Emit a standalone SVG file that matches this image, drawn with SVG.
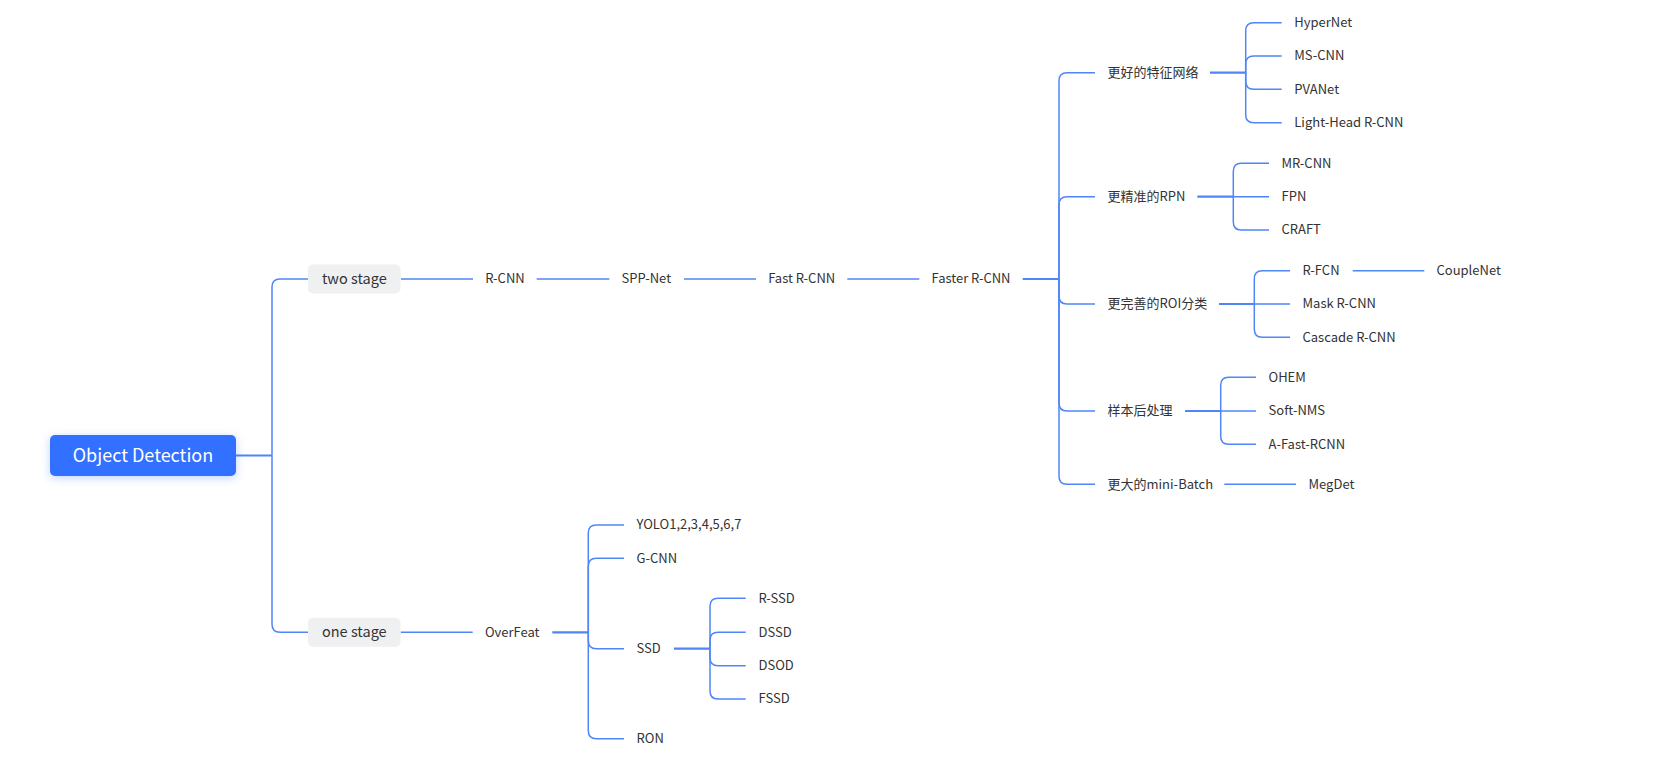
<svg xmlns="http://www.w3.org/2000/svg" width="1664" height="777" viewBox="0 0 1664 777">
<defs>
<style>
.t{font-family:"Noto Sans CJK SC","Noto Sans",sans-serif;font-size:13px;fill:#333}
.s{font-family:"Noto Sans CJK SC","Noto Sans",sans-serif;font-size:14.5px;fill:#333;text-anchor:middle}
.m{text-anchor:middle}
.ln{fill:none;stroke:#4f85f9;stroke-width:1.5}
.st{fill:none;stroke:#4f85f9;stroke-width:2.2}
.box{fill:#eff0f2}
</style>
<filter id="sh" x="-20%" y="-40%" width="140%" height="180%">
<feDropShadow dx="0" dy="2" stdDeviation="4" flood-color="#3370ff" flood-opacity="0.3"/>
</filter>
</defs>
<rect width="1664" height="777" fill="#fff"/>
<g id="connectors">
<path class="st" d="M236 455.5H272"/>
<path class="ln" d="M272 455.5V287Q272 279 280 279H308"/>
<path class="ln" d="M272 455.5V624.3Q272 632.3 280 632.3H308"/>
<path class="ln" d="M401 279H473"/>
<path class="ln" d="M536.7 279H609.3"/>
<path class="ln" d="M684 279H756"/>
<path class="ln" d="M847.3 279H919.3"/>
<path class="st" d="M1022.7 279H1059"/>
<path class="ln" d="M1059 279V80.7Q1059 72.7 1067 72.7H1095"/>
<path class="ln" d="M1059 279V204.7Q1059 196.7 1067 196.7H1095"/>
<path class="ln" d="M1059 279V296Q1059 304 1067 304H1095"/>
<path class="ln" d="M1059 279V403Q1059 411 1067 411H1095"/>
<path class="ln" d="M1059 279V476.3Q1059 484.3 1067 484.3H1095"/>
<path class="st" d="M1210 72.7H1245.7"/>
<path class="ln" d="M1245.7 72.7V30.7Q1245.7 22.7 1253.7 22.7H1281.7"/>
<path class="ln" d="M1245.7 72.7V64Q1245.7 56 1253.7 56H1281.7"/>
<path class="ln" d="M1245.7 72.7V81.3Q1245.7 89.3 1253.7 89.3H1281.7"/>
<path class="ln" d="M1245.7 72.7V114.7Q1245.7 122.7 1253.7 122.7H1281.7"/>
<path class="st" d="M1197.3 196.7H1233.3"/>
<path class="ln" d="M1233.3 196.7V171.3Q1233.3 163.3 1241.3 163.3H1269"/>
<path class="ln" d="M1233.3 196.7H1269"/>
<path class="ln" d="M1233.3 196.7V222Q1233.3 230 1241.3 230H1269"/>
<path class="st" d="M1219 304H1254.3"/>
<path class="ln" d="M1254.3 304V278.7Q1254.3 270.7 1262.3 270.7H1290"/>
<path class="ln" d="M1254.3 304H1290"/>
<path class="ln" d="M1254.3 304V329.3Q1254.3 337.3 1262.3 337.3H1290"/>
<path class="ln" d="M1352.7 270.7H1424.3"/>
<path class="st" d="M1185 411H1220.7"/>
<path class="ln" d="M1220.7 411V385.3Q1220.7 377.3 1228.7 377.3H1256"/>
<path class="ln" d="M1220.7 411H1256"/>
<path class="ln" d="M1220.7 411V436.3Q1220.7 444.3 1228.7 444.3H1256"/>
<path class="ln" d="M1224.3 484.3H1296"/>
<path class="ln" d="M400.7 632.3H472.7"/>
<path class="st" d="M552.3 632.3H588.3"/>
<path class="ln" d="M588.3 632.3V533Q588.3 525 596.3 525H624"/>
<path class="ln" d="M588.3 632.3V566.3Q588.3 558.3 596.3 558.3H624"/>
<path class="ln" d="M588.3 632.3V640.7Q588.3 648.7 596.3 648.7H624"/>
<path class="ln" d="M588.3 632.3V730.7Q588.3 738.7 596.3 738.7H624"/>
<path class="st" d="M674 648.7H710"/>
<path class="ln" d="M710 648.7V606.3Q710 598.3 718 598.3H745.7"/>
<path class="ln" d="M710 648.7V640.3Q710 632.3 718 632.3H745.7"/>
<path class="ln" d="M710 648.7V657.7Q710 665.7 718 665.7H745.7"/>
<path class="ln" d="M710 648.7V691Q710 699 718 699H745.7"/>
</g>
<g id="root">
<rect x="50" y="435" width="186" height="41" rx="5" fill="#3370ff" filter="url(#sh)"/>
<text x="143" y="461.5" font-family="Noto Sans CJK SC, Noto Sans, sans-serif" font-size="18" fill="#fff" text-anchor="middle">Object Detection</text>
</g>
<g id="two-stage"><rect class="box" x="308" y="264.5" width="92.5" height="29" rx="5"/><text class="s" x="354.3" y="284">two stage</text></g>
<g id="one-stage"><rect class="box" x="308" y="617.8" width="92.5" height="29" rx="5"/><text class="s" x="354.3" y="637.3">one stage</text></g>
<g id="rcnn"><text class="t m" x="505" y="283.4">R-CNN</text></g>
<g id="sppnet"><text class="t m" x="646.3" y="283.4">SPP-Net</text></g>
<g id="fast-rcnn"><text class="t m" x="801.7" y="283.4">Fast R-CNN</text></g>
<g id="faster-rcnn"><text class="t m" x="971" y="283.4">Faster R-CNN</text></g>
<g id="feature-net"><text class="t" x="1107.5" y="77.1">更好的特征网络</text></g>
<g id="hypernet"><text class="t" x="1294.3" y="27.1">HyperNet</text></g>
<g id="ms-cnn"><text class="t" x="1294.3" y="60.4">MS-CNN</text></g>
<g id="pvanet"><text class="t" x="1294.3" y="93.7">PVANet</text></g>
<g id="light-head"><text class="t" x="1294.3" y="127.1">Light-Head R-CNN</text></g>
<g id="rpn"><text class="t" x="1107.5" y="201.1">更精准的RPN</text></g>
<g id="mr-cnn"><text class="t" x="1281.5" y="167.7">MR-CNN</text></g>
<g id="fpn"><text class="t" x="1281.5" y="201.1">FPN</text></g>
<g id="craft"><text class="t" x="1281.5" y="234.4">CRAFT</text></g>
<g id="roi"><text class="t" x="1107.5" y="308.4">更完善的ROI分类</text></g>
<g id="r-fcn"><text class="t" x="1302.5" y="275.1">R-FCN</text></g>
<g id="couplenet"><text class="t" x="1436.5" y="275.1">CoupleNet</text></g>
<g id="mask-rcnn"><text class="t" x="1302.5" y="308.4">Mask R-CNN</text></g>
<g id="cascade-rcnn"><text class="t" x="1302.5" y="341.7">Cascade R-CNN</text></g>
<g id="post"><text class="t" x="1107.5" y="415.4">样本后处理</text></g>
<g id="ohem"><text class="t" x="1268.5" y="381.7">OHEM</text></g>
<g id="soft-nms"><text class="t" x="1268.5" y="415.4">Soft-NMS</text></g>
<g id="a-fast-rcnn"><text class="t" x="1268.5" y="448.7">A-Fast-RCNN</text></g>
<g id="mini-batch"><text class="t" x="1107.5" y="488.7">更大的mini-Batch</text></g>
<g id="megdet"><text class="t" x="1308.5" y="488.7">MegDet</text></g>
<g id="overfeat"><text class="t m" x="512.2" y="636.7">OverFeat</text></g>
<g id="yolo"><text class="t" x="636.5" y="529.4">YOLO1,2,3,4,5,6,7</text></g>
<g id="g-cnn"><text class="t" x="636.5" y="562.7">G-CNN</text></g>
<g id="ssd"><text class="t" x="636.5" y="653.1">SSD</text></g>
<g id="ron"><text class="t" x="636.5" y="743.1">RON</text></g>
<g id="r-ssd"><text class="t" x="758.5" y="602.7">R-SSD</text></g>
<g id="dssd"><text class="t" x="758.5" y="636.7">DSSD</text></g>
<g id="dsod"><text class="t" x="758.5" y="670.1">DSOD</text></g>
<g id="fssd"><text class="t" x="758.5" y="703.4">FSSD</text></g>
</svg>
